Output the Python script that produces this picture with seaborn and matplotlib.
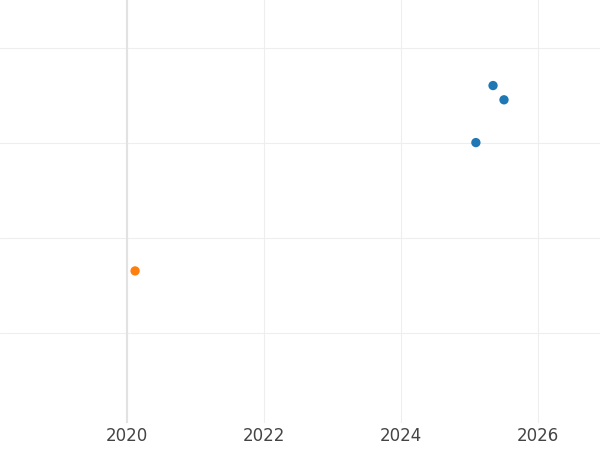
import matplotlib
matplotlib.use('Agg')
import matplotlib.pyplot as plt
import pandas as pd
import seaborn as sns

years = [2025.09, 2025.34, 2025.50, 2020.12]
values = [3.0, 3.6, 3.45, 1.65]
groups = ['a', 'a', 'a', 'b']
colors = {'a': '#1f77b4', 'b': '#ff7f0e'}

df = pd.DataFrame({'year': years, 'value': values, 'group': groups})

sns.set_style('whitegrid')
fig = plt.figure(figsize=(6, 4.5), dpi=100)
ax = fig.add_axes([0, 0.06, 1, 0.94])
sns.scatterplot(data=df, x='year', y='value', hue='group', palette=colors,
                s=45, edgecolor='none', legend=False, ax=ax, zorder=3)
ax.axvline(2020, color='#e2e2e2', lw=1.5, zorder=1)
ax.set_xlim(2018.15, 2026.9)
ax.set_ylim(0.05, 4.5)
ax.set_xticks([2020, 2022, 2024, 2026])
ax.set_yticks([1, 2, 3, 4])
ax.set_yticklabels([])
ax.grid(color='#eeeeee', lw=0.8)
ax.tick_params(axis='x', colors='#444444', labelsize=12, length=0, pad=3)
ax.tick_params(axis='y', length=0)
ax.set_xlabel('')
ax.set_ylabel('')
for s in ax.spines.values():
    s.set_visible(False)
fig.savefig('out.png', dpi=100)
